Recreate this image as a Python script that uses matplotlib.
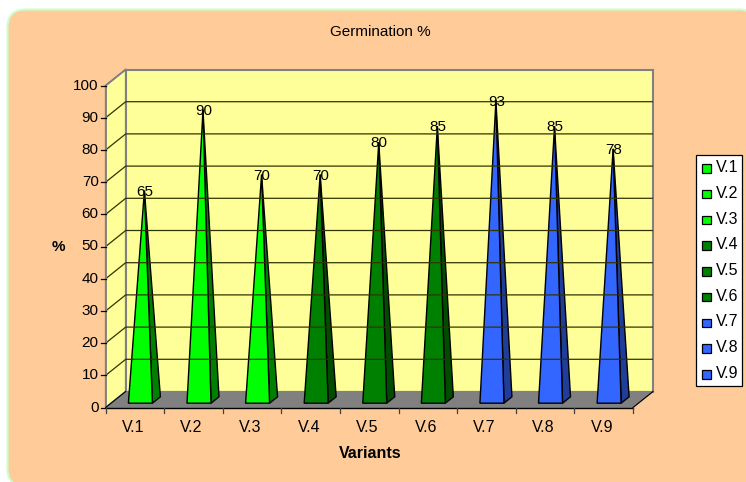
import matplotlib
matplotlib.use("Agg")
import matplotlib.pyplot as plt
from matplotlib.patches import FancyBboxPatch, Polygon, Rectangle

# values
categories = ["V.1", "V.2", "V.3", "V.4", "V.5", "V.6", "V.7", "V.8", "V.9"]
germination = [65, 90, 70, 70, 80, 85, 93, 85, 78]
face_colors = ["#00FF00"] * 3 + ["#008000"] * 3 + ["#3366FF"] * 3
side_colors = ["#008000"] * 3 + ["#004D00"] * 3 + ["#1F3D99"] * 3
y_ticks = list(range(0, 101, 10))

# chart geometry in image pixels
left, right = 105.7, 633.0
y_zero, y_top = 407.5, 85.5
depth_x, depth_y = 20.0, -16.0
bar_w = 24.0
n = len(categories)
step = (right - left) / n
unit = (y_zero - y_top) / 100.0


def py(v):
    return y_zero - v * unit


plt.rcParams["font.family"] = ["Liberation Sans", "DejaVu Sans"]
fig = plt.figure(figsize=(7.46, 4.82), dpi=100, facecolor="white")
ax = fig.add_axes([0, 0, 1, 1])
ax.set_xlim(0, 746)
ax.set_ylim(482, 0)
ax.axis("off")

# background
ax.add_patch(FancyBboxPatch((7.5, 9.5), 749.5, 477, boxstyle="round,pad=0,rounding_size=18",
                            fc="#FFCC99", ec="#CCFFCC", lw=1.5))

# walls and floor
back_l, back_r = left + depth_x, right + depth_x
ax.add_patch(Rectangle((back_l, py(100) + depth_y), back_r - back_l, 100 * unit, fc="#FFFF99", ec="#808080", lw=1.5))
ax.add_patch(Polygon([(left, py(0)), (back_l, py(0) + depth_y), (back_l, py(100) + depth_y), (left, py(100))],
                     fc="#FFFF99", ec="#808080", lw=1.2))
ax.add_patch(Polygon([(left, py(0)), (right, py(0)), (back_r, py(0) + depth_y), (back_l, py(0) + depth_y)],
                     fc="#808080", ec="#808080", lw=0.8))

# gridlines
for v in y_ticks[1:-1]:
    ax.plot([left, back_l, back_r], [py(v), py(v) + depth_y, py(v) + depth_y], color="#333300", lw=0.9, solid_capstyle="butt")

# axes
ax.plot([left, left], [py(0), py(100)], color="#808080", lw=1.2)
ax.plot([left, back_l], [py(100), py(100) + depth_y], color="#808080", lw=1.2)
ax.plot([left, right], [py(0), py(0)], color="black", lw=1.0)
ax.plot([right, back_r], [py(0), py(0) + depth_y], color="black", lw=0.8)
ax.plot([left, back_l], [py(0), py(0) + depth_y], color="black", lw=0.8)
for v in y_ticks:
    ax.plot([left - 5, left], [py(v), py(v)], color="black", lw=0.9)
    ax.text(left - 7, py(v), str(v), ha="right", va="center", fontsize=11, color="black")
for i in range(n + 1):
    x = left + i * step
    ax.plot([x, x], [py(0), py(0) + 5], color="#404040", lw=0.9)
for i, name in enumerate(categories):
    ax.text(left + (i + 0.5) * step - 2, py(0) + 19.5, name, ha="center", va="center", fontsize=11.5, color="black")

# pyramids
front, back = 0.27, 0.67
for i, v in enumerate(germination):
    cx = left + (i + 0.5) * step
    base_y = py(0) + front * depth_y
    fl = (cx + front * depth_x - bar_w / 2, base_y)
    fr = (cx + front * depth_x + bar_w / 2, base_y)
    br = (cx + back * depth_x + bar_w / 2, py(0) + back * depth_y)
    mid = (front + back) / 2
    apex = (cx + mid * depth_x, py(0) + mid * depth_y - v * unit)
    ax.add_patch(Polygon([fr, br, apex], fc=side_colors[i], ec="black", lw=1.0, joinstyle="miter"))
    ax.add_patch(Polygon([fl, fr, apex], fc=face_colors[i], ec="black", lw=1.0, joinstyle="miter"))
    ax.text(apex[0] + 0.5, apex[1] + 1, str(v), ha="center", va="center", fontsize=11, color="black")

# titles
ax.text(380, 32, "Germination %", ha="center", va="center", fontsize=11, color="black")
ax.text(58, 247, "%", ha="center", va="center", fontsize=11, fontweight="bold", color="black")
ax.text(370, 453, "Variants", ha="center", va="center", fontsize=11.5, fontweight="bold", color="black")

# legend
ax.add_patch(Rectangle((696, 154.7), 45.5, 231.3, fc="white", ec="black", lw=0.9))
row = 25.75
for i, name in enumerate(categories):
    y = 168 + i * row
    ax.add_patch(Rectangle((702, y - 4), 8.5, 8.5, fc=face_colors[i], ec="black", lw=0.9))
    ax.text(715.5, y - 0.5, name, ha="left", va="center", fontsize=11.5, color="black")

fig.savefig("out.png", dpi=100, facecolor="white")
